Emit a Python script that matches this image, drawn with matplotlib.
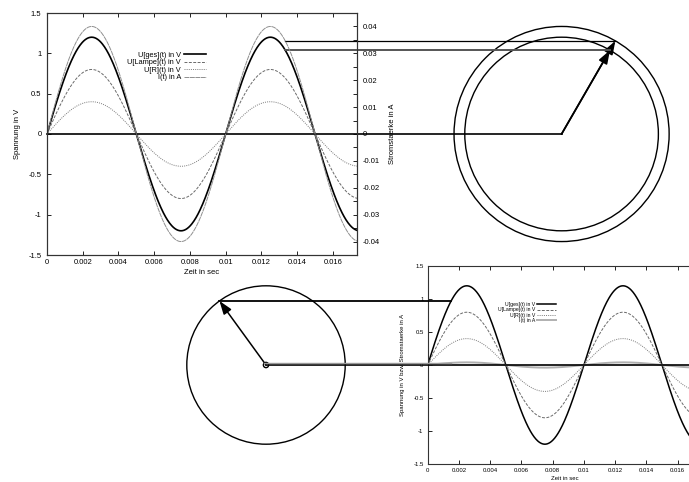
import matplotlib.pyplot as plt
import numpy as np
from matplotlib.patches import Ellipse
from matplotlib.ticker import FuncFormatter, MultipleLocator

plt.rcParams['font.family'] = ['Liberation Sans', 'DejaVu Sans']

# signal parameters (all in phase, 100 Hz)
freq = 100.0
labels = ['U[ges](t) in V', 'U[Lampe](t) in V', 'U[R](t) in V', 'I(t) in A']
amp_top = [1.2, 0.8, 0.4, 0.04]      # I(t) is drawn against the right axis
amp_bot = [1.2, 0.8, 0.4, 0.04]      # everything against one axis

xmax_top = 0.01735
xmax_bot = 0.0175
y2max_top = 0.045

# phasor diagrams
circle_t_top = 0.0288     # centre of upper circles, in time units of upper plot
circle_t_bot = -0.01035   # centre of lower circle, in time units of lower plot
angle_top = 60.0          # degrees
angle_bot = 126.0
link_t_top = 0.01333      # where the connecting lines meet the curves
link_t_bot = 0.0015

styles_top = [
    dict(color='k', lw=1.2, ls='-'),
    dict(color='#6a6a6a', lw=0.7, ls=(0, (3, 1.5))),
    dict(color='#7a7a7a', lw=0.7, ls=(0, (1, 1.2))),
    dict(color='#8f8f8f', lw=0.7, ls=(0, (5, 0.6))),
]
styles_bot = [
    dict(color='k', lw=1.1, ls='-'),
    dict(color='#6a6a6a', lw=0.7, ls=(0, (3, 1.5))),
    dict(color='#7a7a7a', lw=0.7, ls=(0, (1, 1.2))),
    dict(color='#b0b0b0', lw=1.4, ls='-'),
]


def sig(a, t):
    return a * np.sin(2 * np.pi * freq * t)


def gfmt(v, pos):
    return '%g' % (round(v, 6) + 0.0)


def round_ratio(ax):
    # data-x per data-y so that circles come out round on screen
    x0, y0 = ax.transData.transform((0, 0))
    x1, y1 = ax.transData.transform((1, 1))
    return (y1 - y0) / (x1 - x0)


def style_axis(ax):
    for s in ax.spines.values():
        s.set_linewidth(0.8)
        s.set_color('#333333')
    ax.xaxis.set_major_formatter(FuncFormatter(gfmt))
    ax.yaxis.set_major_formatter(FuncFormatter(gfmt))


fig = plt.figure(figsize=(6.89, 4.82), dpi=100)

# ---------------- upper plot ----------------
ax1 = fig.add_axes([47 / 689, 1 - 255 / 482, 310 / 689, 242 / 482])
ax2 = ax1.twinx()
ax1.set_xlim(0, xmax_top)
ax1.set_ylim(-1.5, 1.5)
ax2.set_ylim(-y2max_top, y2max_top)

t1 = np.linspace(0, xmax_top, 600)
handles = []
for i, (a, lab, st) in enumerate(zip(amp_top, labels, styles_top)):
    axx = ax2 if i == 3 else ax1
    h, = axx.plot(t1, sig(a, t1), label=lab, **st)
    handles.append(h)

style_axis(ax1)
style_axis(ax2)
ax1.xaxis.set_major_locator(MultipleLocator(0.002))
ax1.yaxis.set_major_locator(MultipleLocator(0.5))
ax2.yaxis.set_major_locator(MultipleLocator(0.01))
ax2.yaxis.set_minor_locator(MultipleLocator(0.005))
ax1.tick_params(axis='x', direction='in', length=3, width=0.6, top=True,
                labelsize=5.5, pad=3)
ax1.tick_params(axis='y', direction='in', length=3, width=0.6, right=False,
                labelsize=5.5, pad=4)
ax2.tick_params(axis='y', which='both', direction='in', length=3, width=0.6,
                labelsize=5.5, pad=4)
ax1.set_xlabel('Zeit in sec', fontsize=5.5, labelpad=2)
ax1.set_ylabel('Spannung in V', fontsize=5.5, labelpad=5)
ax2.set_ylabel('Stromstaerke in A', fontsize=5.5, labelpad=7)

ax2.legend(handles, labels, loc='upper right', bbox_to_anchor=(0.525, 0.855),
           frameon=False, markerfirst=False, fontsize=5.3, handlelength=3.0,
           handletextpad=0.4, labelspacing=0.05, borderpad=0)

# phasors for upper plot
kx = round_ratio(ax1)
ang = np.deg2rad(angle_top)
r_i = amp_top[3] / y2max_top * 1.5        # current amplitude in left-axis units
radii = [r_i, amp_top[0]]
link_cols = ['k', '#555555']
link_lw = [0.9, 1.4]
ax1.plot([0, circle_t_top], [0, 0], color='k', lw=1.2, clip_on=False, zorder=5)
for r, c, lw in zip(radii, link_cols, link_lw):
    ax1.add_patch(Ellipse((circle_t_top, 0), 2 * r * kx, 2 * r, fill=False,
                          ec='k', lw=1.0, clip_on=False))
    tip = (circle_t_top + r * np.cos(ang) * kx, r * np.sin(ang))
    ax1.annotate('', xy=tip, xytext=(circle_t_top, 0), annotation_clip=False,
                 arrowprops=dict(arrowstyle='-|>,head_length=0.8,head_width=0.28',
                                 color='k', lw=1.2, shrinkA=0, shrinkB=0))
    ax1.plot([link_t_top, tip[0]], [tip[1], tip[1]], color=c, lw=lw,
             clip_on=False, zorder=5)

# ---------------- lower plot ----------------
ax3 = fig.add_axes([427.7 / 689, 18 / 482, 273.4 / 689, 198 / 482])
ax3.set_xlim(0, xmax_bot)
ax3.set_ylim(-1.5, 1.5)
t3 = np.linspace(0, xmax_bot, 600)
for a, lab, st in zip(amp_bot, labels, styles_bot):
    ax3.plot(t3, sig(a, t3), label=lab, **st)

style_axis(ax3)
ax3.xaxis.set_major_locator(MultipleLocator(0.002))
ax3.yaxis.set_major_locator(MultipleLocator(0.5))
ax3.tick_params(direction='in', length=3, width=0.6, top=True, right=False,
                labelsize=4.3, pad=3)
ax3.set_xlabel('Zeit in sec', fontsize=4.3, labelpad=2)
ax3.set_ylabel('Spannung in V bzw. Stromstaerke in A', fontsize=4.3, labelpad=6)
ax3.legend(loc='upper right', bbox_to_anchor=(0.478, 0.83), frameon=False,
           markerfirst=False, fontsize=3.7, handlelength=3.6, handletextpad=0.4,
           labelspacing=0.05, borderpad=0)

kx3 = round_ratio(ax3)
ang3 = np.deg2rad(angle_bot)
ax3.plot([circle_t_bot, xmax_bot], [0, 0], color='k', lw=1.2, clip_on=False,
         zorder=5)
for r, c, lw, head in [(amp_bot[0], 'k', 1.3, True), (amp_bot[3], '#999999', 1.0, False)]:
    ax3.add_patch(Ellipse((circle_t_bot, 0), 2 * r * kx3, 2 * r, fill=False,
                          ec='k', lw=1.0, clip_on=False))
    tip = (circle_t_bot + r * np.cos(ang3) * kx3, r * np.sin(ang3))
    if head:
        ax3.annotate('', xy=tip, xytext=(circle_t_bot, 0), annotation_clip=False,
                     arrowprops=dict(arrowstyle='-|>,head_length=0.8,head_width=0.28',
                                     color='k', lw=1.1, shrinkA=0, shrinkB=0))
    ax3.plot([tip[0], link_t_bot], [tip[1], tip[1]], color=c, lw=lw,
             clip_on=False, zorder=5)

fig.savefig('out.png', dpi=100)
